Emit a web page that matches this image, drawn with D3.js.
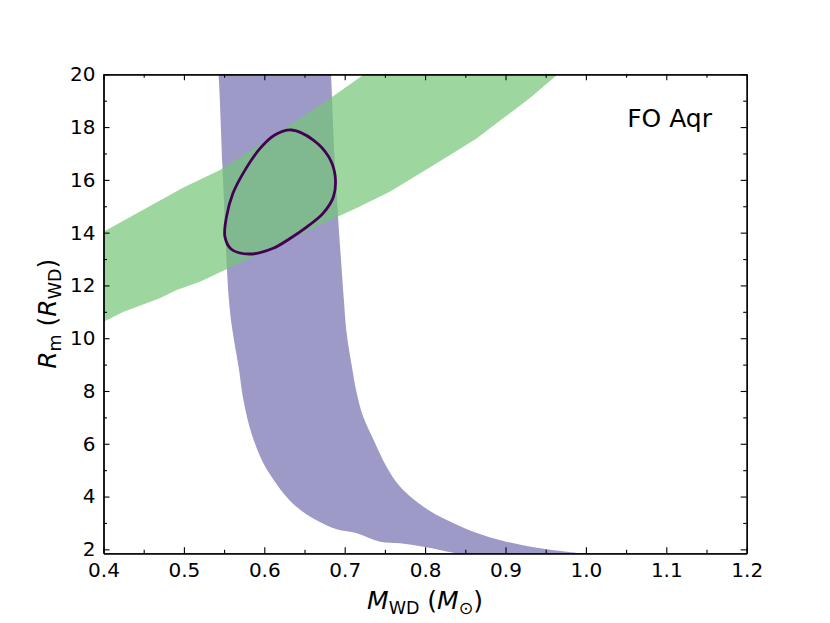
<!DOCTYPE html>
<html lang="en">
  <head>
    <meta charset="UTF-8" />
    <title>FO Aqr</title>
    <script src="https://d3js.org/d3.v7.min.js"></script>
    <style>
      body { margin: 0; background: #fff; }
      svg text { font-family: 'DejaVu Sans', sans-serif; fill: #000; }
      .axis path, .axis line { stroke: #000; }
      .axis path { stroke-width: 1.3; }
      .axis line { stroke-width: 1.1; }
    </style>
  </head>
  <body></body>
  <script type="text/javascript">
    var width = 830,
      height = 623;
    var margin = { top: 74.3, right: 83.3, bottom: 69.7, left: 103.5 };

    // tick labels
    var xTicks = [0.4, 0.5, 0.6, 0.7, 0.8, 0.9, 1.0, 1.1, 1.2];
    var yTicks = [2, 4, 6, 8, 10, 12, 14, 16, 18, 20];

    // purple band (radius constraint), left edge top -> bottom
    var purpleLeftX = [0.541, 0.543, 0.548, 0.556, 0.561, 0.568, 0.574, 0.584, 0.597, 0.609, 0.624, 0.640, 0.661, 0.690, 0.715, 0.744, 0.769, 0.798, 0.839, 0.850];
    var purpleLeftY = [20.5, 20.0, 16.5, 11.45, 10.18, 8.92, 7.66, 6.40, 5.38, 4.75, 4.12, 3.61, 3.17, 2.76, 2.61, 2.29, 2.23, 2.10, 1.85, 1.80];
    // right edge bottom -> top
    var purpleRightX = [1.000, 0.993, 0.976, 0.943, 0.901, 0.860, 0.827, 0.798, 0.769, 0.752, 0.736, 0.723, 0.715, 0.709, 0.7025, 0.699, 0.688, 0.683, 0.682];
    var purpleRightY = [1.80, 1.85, 1.91, 2.04, 2.29, 2.67, 3.11, 3.61, 4.37, 5.13, 6.14, 7.02, 7.91, 8.92, 10.18, 11.45, 16.5, 20.0, 20.5];

    // green band, lower edge left -> right
    var greenLowX = [0.350, 0.400, 0.425, 0.470, 0.491, 0.520, 0.553, 0.620, 0.682, 0.713, 0.756, 0.794, 0.831, 0.864, 0.897, 0.930, 0.964, 0.990];
    var greenLowY = [9.9, 10.62, 11.0, 11.51, 11.83, 12.14, 12.61, 13.58, 14.48, 14.91, 15.55, 16.25, 16.94, 17.57, 18.33, 19.09, 19.97, 20.6];
    // upper edge left -> right
    var greenHighX = [0.350, 0.400, 0.500, 0.545, 0.600, 0.682, 0.723, 0.760];
    var greenHighY = [13.2, 14.03, 15.72, 16.37, 17.45, 19.09, 19.97, 20.8];

    // contour
    var contourX = [0.634, 0.661, 0.680, 0.688, 0.686, 0.673, 0.653, 0.632, 0.611, 0.582, 0.559, 0.551, 0.553, 0.561, 0.576, 0.595, 0.613];
    var contourY = [17.89, 17.51, 16.88, 16.18, 15.36, 14.73, 14.22, 13.78, 13.41, 13.19, 13.37, 13.85, 14.60, 15.49, 16.37, 17.20, 17.70];

    var w = width - margin.left - margin.right,
      h = height - margin.top - margin.bottom;

    var x = d3.scaleLinear().domain([0.4, 1.2]).range([0, w]);
    var y = d3.scaleLinear().domain([1.85, 20]).range([h, 0]);

    var svg = d3.select('body').append('svg')
      .attr('width', width)
      .attr('height', height);

    var g = svg.append('g')
      .attr('transform', 'translate(' + margin.left + ',' + margin.top + ')');

    g.append('clipPath').attr('id', 'clip')
      .append('rect').attr('width', w).attr('height', h);

    var zip = (xs, ys) => xs.map((v, i) => [v, ys[i]]);
    var smooth = d3.line().x(d => x(d[0])).y(d => y(d[1])).curve(d3.curveCatmullRom);
    var straight = d3.line().x(d => x(d[0])).y(d => y(d[1]));

    var plot = g.append('g').attr('clip-path', 'url(#clip)');

    var purplePts = zip(purpleLeftX, purpleLeftY).concat(zip(purpleRightX, purpleRightY));
    plot.append('path')
      .attr('d', smooth(purplePts) + 'Z')
      .attr('fill', '#9e9ac8');

    var greenPts = zip(greenLowX, greenLowY).concat(zip(greenHighX, greenHighY).reverse());
    plot.append('path')
      .attr('d', straight(greenPts) + 'Z')
      .attr('fill', '#74c476')
      .attr('fill-opacity', 0.7);

    plot.append('path')
      .attr('d', d3.line().x(d => x(d[0])).y(d => y(d[1])).curve(d3.curveCatmullRomClosed)(zip(contourX, contourY)))
      .attr('fill', 'none')
      .attr('stroke', '#440154')
      .attr('stroke-width', 2.8);

    // axes, ticks inward on all sides
    var xMinor = d3.range(0.4, 1.2001, 0.05).filter((v, i) => i % 2 === 1);
    var yMinor = d3.range(3, 20, 2);

    function addAxis(axis, tr, labels) {
      var a = g.append('g').attr('class', 'axis').attr('transform', tr).call(axis);
      a.selectAll('text').style('font-size', labels ? '20px' : '0px');
      return a;
    }

    addAxis(d3.axisBottom(x).tickValues(xTicks).tickFormat(d3.format('.1f')).tickSizeInner(-6).tickSizeOuter(0).tickPadding(9.5), 'translate(0,' + h + ')', true);
    addAxis(d3.axisBottom(x).tickValues(xMinor).tickFormat('').tickSizeInner(-3.5).tickSizeOuter(0), 'translate(0,' + h + ')', false);
    addAxis(d3.axisTop(x).tickValues(xTicks).tickFormat('').tickSizeInner(-6).tickSizeOuter(0), 'translate(0,0)', false);
    addAxis(d3.axisTop(x).tickValues(xMinor).tickFormat('').tickSizeInner(-3.5).tickSizeOuter(0), 'translate(0,0)', false);

    addAxis(d3.axisLeft(y).tickValues(yTicks).tickFormat(d3.format('d')).tickSizeInner(-6).tickSizeOuter(0).tickPadding(8), 'translate(0,0)', true);
    addAxis(d3.axisLeft(y).tickValues(yMinor).tickFormat('').tickSizeInner(-3.5).tickSizeOuter(0), 'translate(0,0)', false);
    addAxis(d3.axisRight(y).tickValues(yTicks).tickFormat('').tickSizeInner(-6).tickSizeOuter(0), 'translate(' + w + ',0)', false);
    addAxis(d3.axisRight(y).tickValues(yMinor).tickFormat('').tickSizeInner(-3.5).tickSizeOuter(0), 'translate(' + w + ',0)', false);

    // axis labels
    var xl = svg.append('text')
      .attr('x', margin.left + w / 2)
      .attr('y', 609)
      .attr('text-anchor', 'middle')
      .style('font-size', '25px');
    xl.append('tspan').style('font-style', 'italic').text('M');
    xl.append('tspan').attr('dy', 4.5).style('font-size', '17.5px').text('WD');
    xl.append('tspan').attr('dy', -4.5).text(' (');
    xl.append('tspan').style('font-style', 'italic').text('M');
    xl.append('tspan').attr('dy', 4.5).style('font-size', '17.5px').text('\u2299');
    xl.append('tspan').attr('dy', -4.5).text(')');

    var yl = svg.append('text')
      .attr('transform', 'translate(56,' + (margin.top + h / 2) + ') rotate(-90)')
      .attr('text-anchor', 'middle')
      .style('font-size', '25px');
    yl.append('tspan').style('font-style', 'italic').text('R');
    yl.append('tspan').attr('dy', 4.5).style('font-size', '17.5px').text('m');
    yl.append('tspan').attr('dy', -4.5).text(' (');
    yl.append('tspan').style('font-style', 'italic').text('R');
    yl.append('tspan').attr('dy', 4.5).style('font-size', '17.5px').text('WD');
    yl.append('tspan').attr('dy', -4.5).text(')');

    svg.append('text')
      .attr('x', 712)
      .attr('y', 127)
      .attr('text-anchor', 'end')
      .style('font-size', '25px')
      .text('FO Aqr');
  </script>
</html>
